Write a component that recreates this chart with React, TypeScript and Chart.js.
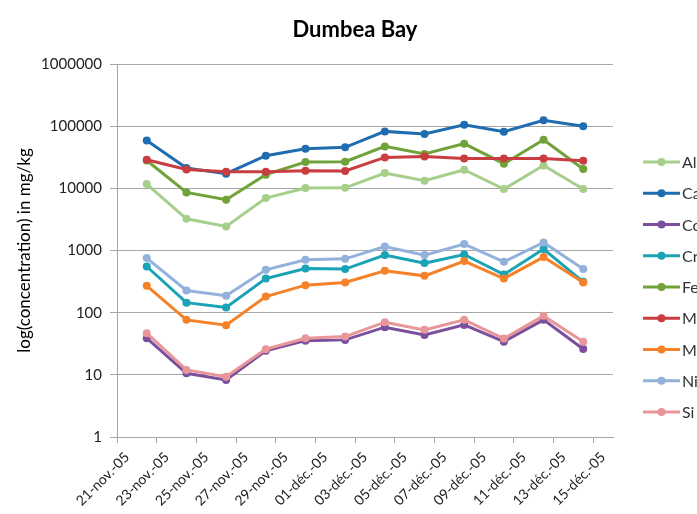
import React, { useEffect, useRef } from "react";
import { Chart, registerables } from "chart.js";

Chart.register(...registerables);

const chartTitle = "Dumbea Bay";
const yAxisTitle = "log(concentration) in mg/kg";
const startDate = "2005-11-21";
const sampleDates = [
  "2005-11-22", "2005-11-24", "2005-11-26", "2005-11-28", "2005-11-30", "2005-12-02",
  "2005-12-04", "2005-12-06", "2005-12-08", "2005-12-10", "2005-12-12", "2005-12-14",
];
const tickDates = [
  "2005-11-21", "2005-11-23", "2005-11-25", "2005-11-27", "2005-11-29", "2005-12-01", "2005-12-03",
  "2005-12-05", "2005-12-07", "2005-12-09", "2005-12-11", "2005-12-13", "2005-12-15",
];
const tickLabels = [
  "21-nov.-05", "23-nov.-05", "25-nov.-05", "27-nov.-05", "29-nov.-05", "01-déc.-05", "03-déc.-05",
  "05-déc.-05", "07-déc.-05", "09-déc.-05", "11-déc.-05", "13-déc.-05", "15-déc.-05",
];
const yTicks = [1, 10, 100, 1000, 10000, 100000, 1000000];

const seriesNames = ["Al", "Ca", "Co", "Cr", "Fe", "Mg", "Mn", "Ni", "Si"];
const Al = [11700, 3240, 2430, 6980, 10100, 10200, 17600, 13300, 19900, 9740, 23400, 9740];
const Ca = [59000, 21200, 17200, 33500, 43400, 45600, 82400, 74900, 105700, 81500, 124000, 99300];
const Co = [38.8, 10.6, 8.28, 24.3, 35.5, 36.5, 58.4, 43.9, 63.6, 34.2, 76.6, 26.1];
const Cr = [553, 145, 121, 354, 513, 502, 843, 627, 862, 411, 1053, 313];
const Fe = [28000, 8590, 6550, 16600, 26500, 26800, 47300, 35700, 52300, 24900, 60600, 20500];
const Mg = [28900, 20100, 18500, 18500, 19200, 19000, 31400, 32600, 30300, 30300, 30300, 27800];
const Mn = [270, 76.6, 62.9, 182, 277, 305, 471, 391, 675, 354, 783, 305];
const Ni = [755, 227, 187, 489, 708, 735, 1160, 843, 1270, 658, 1345, 502];
const Si = [46.8, 12.0, 9.35, 25.8, 38.8, 41.2, 70.3, 52.9, 76.6, 38.3, 88.8, 34.2];
const seriesValues = [Al, Ca, Co, Cr, Fe, Mg, Mn, Ni, Si];
const seriesColors = [
  "#a6cf8c", "#1f6db0", "#7a4f9d", "#1aa2b5", "#6fa339",
  "#c93c3f", "#f58228", "#92b2dc", "#e8969a",
];

const DAY = 86400000;
const dayOffset = (d: string) => (Date.parse(d) - Date.parse(startDate)) / DAY;

const FONT = "Lato, 'Open Sans', sans-serif";

const decorPlugin = {
  id: "excelDecor",
  afterDraw(chart: any) {
    const ctx = chart.ctx;
    ctx.save();
    // title, centred over the whole (wider, clipped) Excel chart object
    ctx.fillStyle = "#000";
    ctx.font = `bold 22px ${FONT}`;
    ctx.textAlign = "center";
    ctx.textBaseline = "middle";
    ctx.fillText(chartTitle, 355, 30);
    // legend
    const x0 = 643;
    const y0 = 162;
    const step = 31.25;
    seriesNames.forEach((name, i) => {
      const y = y0 + i * step;
      ctx.strokeStyle = seriesColors[i];
      ctx.lineWidth = 3;
      ctx.beginPath();
      ctx.moveTo(x0, y);
      ctx.lineTo(x0 + 37, y);
      ctx.stroke();
      ctx.fillStyle = seriesColors[i];
      ctx.beginPath();
      ctx.arc(x0 + 18.5, y, 4, 0, Math.PI * 2);
      ctx.fill();
      ctx.fillStyle = "#333";
      ctx.font = `16px ${FONT}`;
      ctx.textBaseline = "middle";
      ctx.textAlign = "left";
      ctx.fillText(name, x0 + 39, y + 1);
    });
    ctx.restore();
  },
};

export default function App() {
  const ref = useRef<HTMLCanvasElement>(null);
  useEffect(() => {
    document.body.style.margin = "0";
    const xs = sampleDates.map((d) => dayOffset(d) + 0.5);
    const n = seriesNames.length;
    const chart = new Chart(ref.current!, {
      type: "line",
      data: {
        datasets: seriesNames.map((name, i) => ({
          label: name,
          data: seriesValues[i].map((v, j) => ({ x: xs[j], y: v })),
          borderColor: seriesColors[i],
          backgroundColor: seriesColors[i],
          borderWidth: 3,
          pointRadius: 4,
          pointBorderWidth: 0,
          pointHoverRadius: 4,
          tension: 0,
          order: n - i,
        })),
      },
      options: {
        animation: false,
        responsive: false,
        devicePixelRatio: 1,
        layout: { padding: { left: 0, right: 84, top: 64, bottom: 0 } },
        plugins: {
          legend: { display: false },
          tooltip: { enabled: false },
          title: { display: false },
        },
        scales: {
          x: {
            type: "linear",
            min: 0,
            max: dayOffset(tickDates[tickDates.length - 1]) + 1,
            afterBuildTicks: (scale: any) => {
              scale.ticks = tickDates.map((d) => ({ value: dayOffset(d) }));
            },
            afterFit: (scale: any) => {
              scale.height = 77;
            },
            ticks: {
              autoSkip: false,
              minRotation: 45,
              maxRotation: 45,
              color: "#222",
              font: { family: FONT, size: 14 },
              padding: 6,
              labelOffset: 10,
              callback: (_v: any, i: number) => tickLabels[i],
            },
            grid: { drawOnChartArea: false, drawTicks: true, tickLength: 6, color: "#a6a6a6" },
            border: { color: "#a6a6a6" },
          },
          y: {
            type: "logarithmic",
            min: 1,
            max: 1000000,
            afterBuildTicks: (scale: any) => {
              scale.ticks = yTicks.map((v) => ({ value: v }));
            },
            afterFit: (scale: any) => {
              scale.width = 117;
            },
            ticks: {
              color: "#222",
              font: { family: FONT, size: 15 },
              padding: 8,
              callback: (v: any) => String(v),
            },
            grid: { color: "#a6a6a6", tickLength: 7 },
            border: { color: "#a6a6a6" },
            title: {
              display: true,
              text: yAxisTitle,
              color: "#000",
              font: { family: FONT, size: 17 },
              padding: { top: 14, bottom: 0 },
            },
          },
        },
      },
      plugins: [decorPlugin],
    });
    return () => chart.destroy();
  }, []);
  return (
    <div style={{ width: 697, height: 514 }}>
      <canvas ref={ref} width={697} height={514} />
    </div>
  );
}
